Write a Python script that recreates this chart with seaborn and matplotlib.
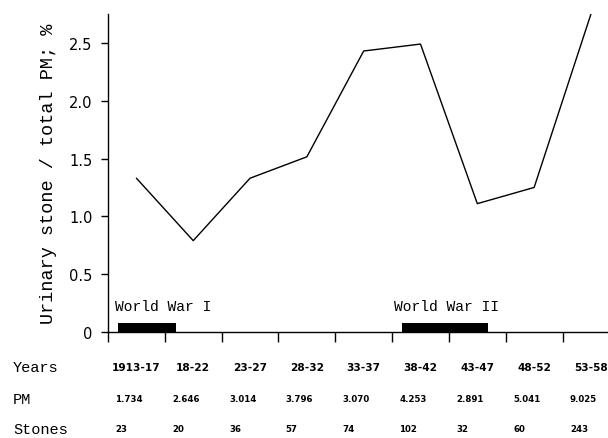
import matplotlib
matplotlib.use("Agg")
import matplotlib.pyplot as plt
import matplotlib.transforms as mtransforms
import seaborn as sns
import pandas as pd

years = ["1913-17", "18-22", "23-27", "28-32", "33-37", "38-42", "43-47", "48-52", "53-58"]
pm = ["1.734", "2.646", "3.014", "3.796", "3.070", "4.253", "2.891", "5.041", "9.025"]
stones = ["23", "20", "36", "57", "74", "102", "32", "60", "243"]
ratio = [1.33, 0.79, 1.33, 1.515, 2.43, 2.49, 1.11, 1.25, 2.75]
wars = ["World War I", "World War II"]
war_start = [-0.32, 4.67]
war_end = [0.70, 6.18]
yticks = [0, 0.5, 1.0, 1.5, 2.0, 2.5]
ytick_labels = ["0", "0.5", "1.0", "1.5", "2.0", "2.5"]

sns.set_theme(style="white")
plt.rcParams['font.family'] = ['DejaVu Sans']
plt.rcParams['text.color'] = 'black'
plt.rcParams['ytick.color'] = 'black'
plt.rcParams['xtick.color'] = 'black'
plt.rcParams['axes.labelcolor'] = 'black'

df = pd.DataFrame({"pos": range(len(years)), "ratio": ratio})

fig = plt.figure(figsize=(6.08, 4.39), dpi=100)
ax = fig.add_axes([108 / 608, (439 - 333) / 439, 500 / 608, (333 - 15) / 439])

sns.lineplot(data=df, x="pos", y="ratio", color="black", lw=1.0, ax=ax)

# war bars
for s, e in zip(war_start, war_end):
    ax.bar(s, 0.078, width=e - s, bottom=0, align="edge", color="black", edgecolor="black", lw=0)
ax.text(-0.37, 0.225, wars[0], ha="left", va="center", family="Liberation Mono", fontsize=10.5)
ax.text(4.54, 0.225, wars[1], ha="left", va="center", family="Liberation Mono", fontsize=10.5)

ax.set_xlim(-0.5, 8.3)
ax.set_ylim(0, 2.75)
ax.set_xticks([i - 0.5 for i in range(len(years))])
ax.set_xticklabels([])
ax.set_yticks(yticks)
ax.set_yticklabels(ytick_labels, fontsize=10.5)
ax.tick_params(axis="x", direction="out", length=7, width=1, color="black", bottom=True)
ax.tick_params(axis="y", direction="out", length=5, width=1, color="black", left=True, pad=6)
for side in ["top", "right"]:
    ax.spines[side].set_visible(False)
for side in ["left", "bottom"]:
    ax.spines[side].set_color("black")
    ax.spines[side].set_linewidth(1.0)
ax.set_xlabel("")
ax.set_ylabel("Urinary stone / total PM; %", family="Liberation Mono", fontsize=13.3, labelpad=9)

trans = mtransforms.blended_transform_factory(ax.transData, fig.transFigure)
row_y = [1 - 368 / 439, 1 - 400 / 439, 1 - 430 / 439]
for lbl, yy in zip(["Years", "PM", "Stones"], row_y):
    fig.text(13 / 608, yy, lbl, ha="left", va="center", family="Liberation Mono", fontsize=11)
for i, (y_, p_, s_) in enumerate(zip(years, pm, stones)):
    ax.text(i, row_y[0], y_, transform=trans, ha="center", va="center",
            fontsize=7.6, fontweight="bold", clip_on=False)
    ax.text(i - 0.37, row_y[1], p_, transform=trans, ha="left", va="center",
            fontsize=6.2, fontweight="bold", clip_on=False)
    ax.text(i - 0.37, row_y[2], s_, transform=trans, ha="left", va="center",
            fontsize=6.2, fontweight="bold", clip_on=False)

fig.savefig("out.png", dpi=100)
